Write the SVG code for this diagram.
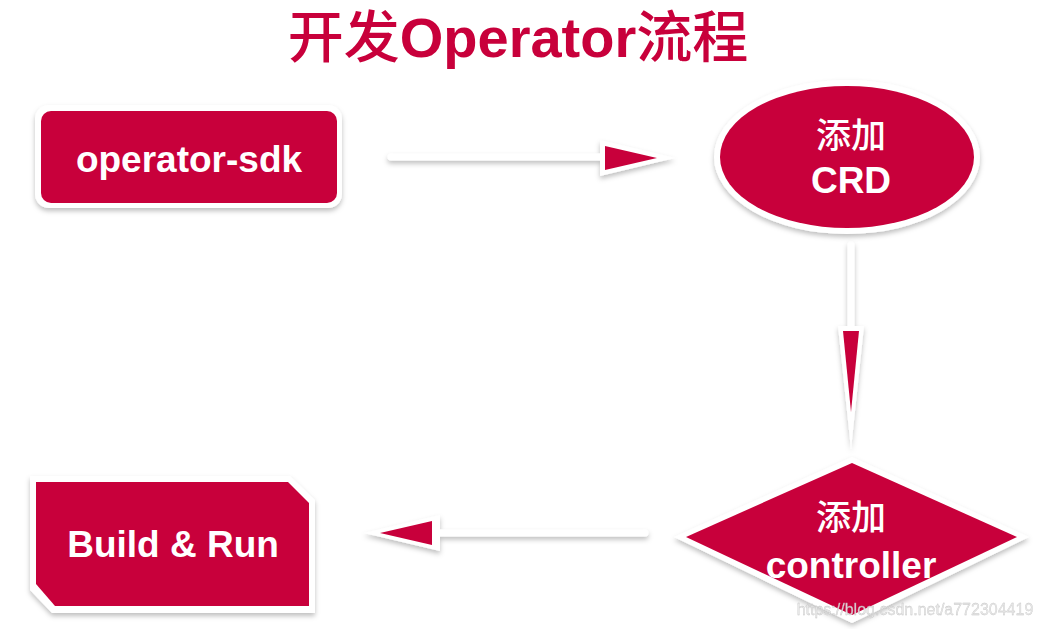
<svg xmlns="http://www.w3.org/2000/svg" width="1042" height="629" viewBox="0 0 1042 629">
<defs>
<style>
.t{font-family:"Liberation Sans","Noto Sans CJK SC",sans-serif;font-weight:bold;fill:#fff;text-anchor:middle}
.cj{font-weight:500}
.red{fill:#C8003B}
.wh{fill:#fff}
.ln{stroke:#fff;stroke-width:7;stroke-linecap:round;fill:none}
</style>
<filter id="sh" x="-20%" y="-20%" width="140%" height="150%">
<feDropShadow dx="0" dy="3" stdDeviation="2.5" flood-color="#000" flood-opacity="0.25"/>
</filter>
</defs>
<rect width="1042" height="629" fill="#fff"/>
<text x="518" y="57" font-family="Liberation Sans,'Noto Sans CJK SC',sans-serif" font-weight="bold" font-size="56" fill="#C8003B" text-anchor="middle"><tspan class="cj">开发</tspan>Operator<tspan class="cj">流程</tspan></text>

<g id="connectors">
<g filter="url(#sh)">
<line class="ln" x1="391" y1="157" x2="605" y2="157"/>
<polygon class="wh" points="600,140 675,158 600,176"/>
</g>
<polygon class="red" points="605,146 657,158 605,170"/>

<g filter="url(#sh)">
<line class="ln" x1="851" y1="245" x2="851" y2="330"/>
<polygon class="wh" points="838,326 864,326 851,449"/>
</g>
<polygon class="red" points="843,331 859,331 851,412"/>

<g filter="url(#sh)">
<line class="ln" x1="645" y1="533" x2="435" y2="533"/>
<polygon class="wh" points="440,515 364,533 440,551"/>
</g>
<polygon class="red" points="432,521 380,533 432,545"/>
</g>

<g id="operator-sdk">
<rect x="35" y="105" width="307" height="103" rx="14" class="wh" filter="url(#sh)"/>
<rect x="41" y="111" width="296" height="92" rx="10" class="red"/>
<text class="t" x="189" y="172" font-size="37">operator-sdk</text>
</g>

<g id="crd">
<ellipse cx="847" cy="157" rx="133" ry="77" class="wh" filter="url(#sh)"/>
<ellipse cx="847" cy="157" rx="127" ry="71" class="red"/>
<text class="t cj" x="851" y="148" font-size="35">添加</text>
<text class="t" x="851" y="193" font-size="37">CRD</text>
</g>

<g id="build-run">
<polygon class="wh" points="30,476 290,476 315,500 315,613 52,613 30,590" filter="url(#sh)"/>
<polygon class="red" points="36,482 288,482 309,503 309,606 55,606 36,584"/>
<text class="t" x="173" y="557" font-size="37">Build &amp; Run</text>
</g>

<g id="controller">
<polygon class="wh" points="852,457 1029,537 852,623 674,537" filter="url(#sh)"/>
<polygon class="red" points="852,463 1017,537 852,615 686,537"/>
<text class="t cj" x="851" y="530" font-size="35">添加</text>
<text class="t" x="851" y="578" font-size="37">controller</text>
</g>

<text x="915" y="615" font-family="Liberation Sans,sans-serif" font-size="16" fill="#e6e6e6" stroke="#bbb" stroke-width="0.3" text-anchor="middle" opacity="0.9">https://blog.csdn.net/a772304419</text>
</svg>
